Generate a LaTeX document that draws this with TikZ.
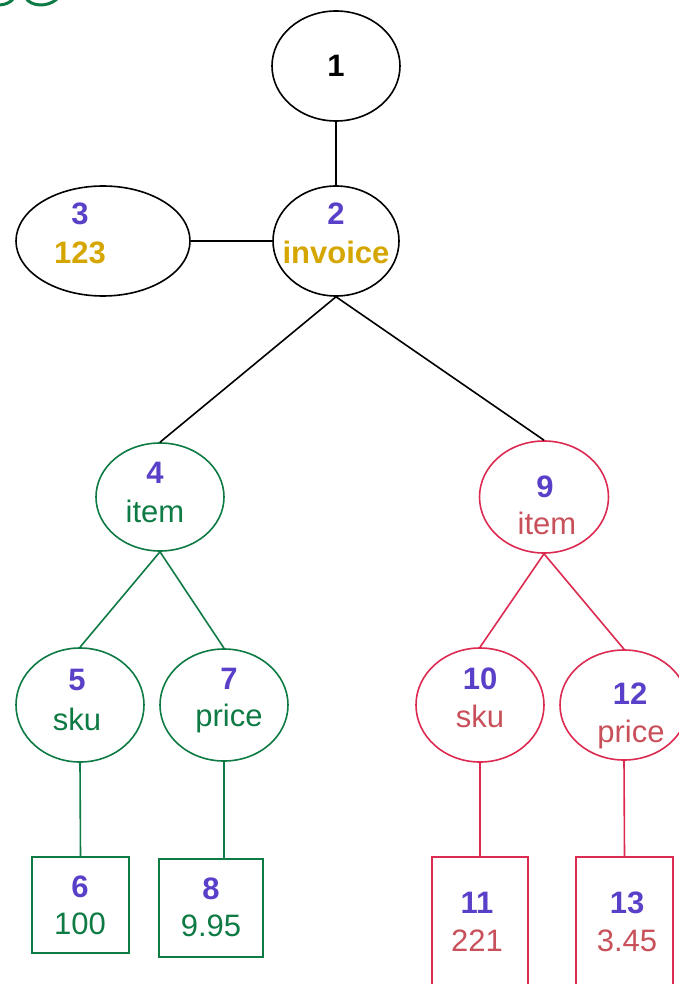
\documentclass[tikz,border=0pt]{standalone}
\usepackage{fontspec}
\setmainfont{Liberation Sans}
\usetikzlibrary{shapes.geometric}
\definecolor{numc}{HTML}{5A40C8}
\definecolor{goldc}{HTML}{D6A600}
\definecolor{grnc}{HTML}{0E7A44}
\definecolor{redc}{HTML}{DC2A50}
\definecolor{redt}{HTML}{C8505A}
\tikzset{
  ell/.style={ellipse, draw, line width=1.6pt, inner sep=0pt},
  boxn/.style={rectangle, draw, line width=1.6pt, inner sep=0pt},
  num/.style={anchor=base, inner sep=0pt, text=numc, font=\fontsize{31}{37}\selectfont\bfseries},
  lab/.style={anchor=base, inner sep=0pt, font=\fontsize{31}{37}\selectfont},
  conn/.style={line width=1.6pt},
}
\begin{document}
\begin{tikzpicture}[x=1pt,y=-1pt]
\useasboundingbox (0,0) rectangle (679,984);
% top-left green fragment
\draw[grnc, line width=3pt] (-2,5) .. controls (5,5) and (10,3) .. (14,-2);
\draw[grnc, line width=3pt] (26,-2) .. controls (30,6) and (47,8) .. (57,-1);
% ellipses
\node[ell, minimum width=128pt, minimum height=110pt] (n1) at (336,66) {};
\node[ell, minimum width=126pt, minimum height=110pt] (n2) at (336,241) {};
\node[ell, minimum width=174pt, minimum height=110pt] (n3) at (103,241) {};
\node[ell, draw=grnc, minimum width=128pt, minimum height=108pt] (n4) at (160,497) {};
\node[ell, draw=redc, minimum width=129pt, minimum height=112pt] (n9) at (544,497) {};
\node[ell, draw=grnc, minimum width=128pt, minimum height=114pt] (n5) at (80,705) {};
\node[ell, draw=grnc, minimum width=128pt, minimum height=112pt] (n7) at (224,705) {};
\node[ell, draw=redc, minimum width=128pt, minimum height=114pt] (n10) at (480,705) {};
\node[ell, draw=redc, minimum width=128pt, minimum height=110pt] (n12) at (624,705) {};
% boxes
\node[boxn, draw=grnc, minimum width=97pt, minimum height=96pt] (n6) at (80.5,905) {};
\node[boxn, draw=grnc, minimum width=104pt, minimum height=98pt] (n8) at (211,908) {};
\node[boxn, draw=redc, minimum width=96pt, minimum height=160pt] (n11) at (480,937) {};
\node[boxn, draw=redc, minimum width=97pt, minimum height=160pt] (n13) at (624.5,937) {};
% texts
\node[num, text=black] (t1) at (336,77) {1};
\node[num] (t2a) at (336,225) {2};
\node[lab, text=goldc, font=\fontsize{31}{37}\selectfont\bfseries] (t2b) at (336,263) {invoice};
\node[num] (t3a) at (80,225) {3};
\node[lab, text=goldc, font=\fontsize{31}{37}\selectfont\bfseries] (t3b) at (80,263) {123};
\node[num] (t4a) at (155,483) {4};
\node[lab, text=grnc] (t4b) at (155,522) {item};
\node[num] (t9a) at (545,497) {9};
\node[lab, text=redt] (t9b) at (547,534) {item};
\node[num] (t5a) at (77,690) {5};
\node[lab, text=grnc] (t5b) at (77,730) {sku};
\node[num] (t7a) at (229,689) {7};
\node[lab, text=grnc] (t7b) at (229,726) {price};
\node[num] (t10a) at (480,689) {10};
\node[lab, text=redt] (t10b) at (480,727) {sku};
\node[num] (t12a) at (630,704) {12};
\node[lab, text=redt] (t12b) at (631,742) {price};
\node[num] (t6a) at (80,897) {6};
\node[lab, text=grnc] (t6b) at (80,934) {100};
\node[num] (t8a) at (211,899) {8};
\node[lab, text=grnc] (t8b) at (211,936) {9.95};
\node[num] (t11a) at (477,913) {11};
\node[lab, text=redt] (t11b) at (477,951) {221};
\node[num] (t13a) at (627,913) {13};
\node[lab, text=redt] (t13b) at (627,951) {3.45};
% connectors
\draw[conn] (n1.south) -- (n2.north);
\draw[conn] (n3.east) -- (n2.west);
\draw[conn] (n2.south) -- (n4.north);
\draw[conn] (n2.south) -- (n9.north);
\draw[conn, grnc] (n4.south) -- (n5.north);
\draw[conn, grnc] (n4.south) -- (n7.north);
\draw[conn, redc] (n9.south) -- (n10.north);
\draw[conn, redc] (n9.south) -- (n12.north);
\draw[conn, grnc] (n5.south) -- (n6.north);
\draw[conn, grnc] (n7.south) -- (n7.south |- n8.north);
\draw[conn, redc] (n10.south) -- (n11.north);
\draw[conn, redc] (n12.south) -- (n13.north);
\end{tikzpicture}
\end{document}
